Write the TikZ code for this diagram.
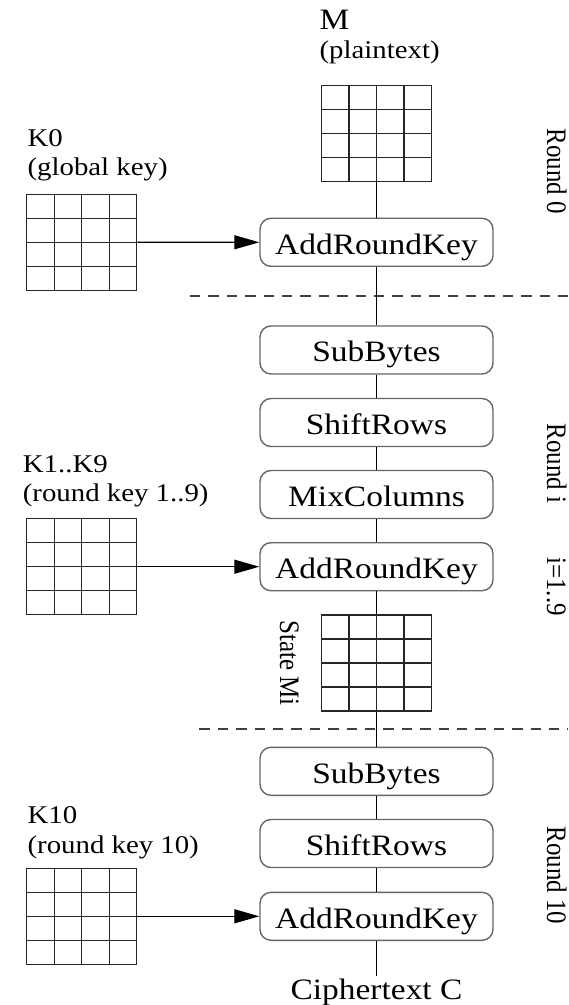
\documentclass[tikz,border=0pt]{standalone}
\usepackage{fontspec}
\setmainfont{Liberation Serif}[FakeStretch=1.13]
\newfontfamily\rotfont{Liberation Serif}[FakeStretch=0.885]
\usetikzlibrary{arrows.meta,calc}
\begin{document}
\begin{tikzpicture}[x=0.5pt,y=-0.5pt,
  opbox/.style={draw=black!60, line width=0.7pt, rounded corners=5.5pt,
    minimum width=116.5pt, minimum height=24pt, inner sep=0pt,
    text height=11.8pt, text depth=0pt, font=\fontsize{14.8pt}{17pt}\selectfont},
  gridbox/.style={draw=black!85, line width=0.65pt, minimum width=55pt, minimum height=48pt, inner sep=0pt,
    path picture={
      \foreach \f in {0.25,0.5,0.75}{
        \draw[black!85, line width=0.65pt]
          ($(path picture bounding box.south west)!\f!(path picture bounding box.south east)$) --
          ($(path picture bounding box.north west)!\f!(path picture bounding box.north east)$);
        \draw[black!85, line width=0.65pt]
          ($(path picture bounding box.south west)!\f!(path picture bounding box.north west)$) --
          ($(path picture bounding box.south east)!\f!(path picture bounding box.north east)$);
      }}},
  bigtxt/.style={inner sep=0pt, font=\fontsize{14.8pt}{17pt}\selectfont},
  lbl/.style={inner sep=0pt, anchor=base west, font=\fontsize{12.75pt}{15pt}\selectfont},
  rotlbl/.style={inner sep=0pt, anchor=base west, rotate=-90, font=\rotfont\fontsize{14.1pt}{16pt}\selectfont},
  flow/.style={draw=black, line width=0.6pt},
  keyarrow/.style={draw=black, line width=0.6pt, -{Triangle[length=12.5pt,width=7pt]}},
  sep/.style={draw=black!75, line width=0.65pt, dash pattern=on 5.2pt off 4pt}
]
\useasboundingbox (0,0) rectangle (568,1005);

% plaintext
\node[bigtxt, anchor=base west] (mt) at (319.2,30) {M};
\node[lbl] (ms) at (319.2,59) {(plaintext)};
\node[gridbox] (mg) at (376.5,133.3) {};

% round 0
\node[lbl] (k0t) at (27.2,146.7) {K0};
\node[lbl] (k0s) at (27.2,176) {(global key)};
\node[gridbox] (k0) at (81.7,242.2) {};
\node[opbox] (ark0) at (376.5,242.3) {AddRoundKey};
\node[rotlbl] (r0) at (547,128.3) {Round 0};

\coordinate (d1a) at (190,296);
\coordinate (d1b) at (568,296);

% round i
\node[opbox] (sb1) at (376.5,350) {SubBytes};
\node[opbox] (sr1) at (376.5,422.5) {ShiftRows};
\node[opbox] (mc1) at (376.5,494.5) {MixColumns};
\node[opbox] (ark1) at (376.5,566.7) {AddRoundKey};
\node[lbl] (k1t) at (22.5,472.3) {K1..K9};
\node[lbl] (k1s) at (22.5,501.7) {(round key 1..9)};
\node[gridbox] (k1) at (81.7,566.7) {};
\node[gridbox] (st) at (376.5,663) {};
\node[rotlbl] (stl) at (280,620) {State Mi};
\node[rotlbl] (ri) at (547,423) {Round i};
\node[rotlbl] (rir) at (547,557) {i=1..9};

\coordinate (d2a) at (199.3,729);
\coordinate (d2b) at (568,729);

% round 10
\node[opbox] (sb10) at (376.5,771.3) {SubBytes};
\node[opbox] (sr10) at (376.5,843.5) {ShiftRows};
\node[opbox] (ark10) at (376.5,916.3) {AddRoundKey};
\node[lbl] (k10t) at (27.2,823.3) {K10};
\node[lbl] (k10s) at (27.2,853) {(round key 10)};
\node[gridbox] (k10) at (81.7,916.3) {};
\node[rotlbl] (r10) at (547,826) {Round 10};

\node[bigtxt, anchor=base, inner sep=1pt] (ct) at (376.5,999) {Ciphertext C};

% separators
\draw[sep] (d1a) -- (d1b);
\draw[sep] (d2a) -- (d2b);

% main flow
\draw[flow] (mg.south) -- (ark0.north);
\draw[flow] (ark0.south) -- (sb1.north);
\draw[flow] (sb1.south) -- (sr1.north);
\draw[flow] (sr1.south) -- (mc1.north);
\draw[flow] (mc1.south) -- (ark1.north);
\draw[flow] (ark1.south) -- (st.north);
\draw[flow] (st.south) -- (sb10.north);
\draw[flow] (sb10.south) -- (sr10.north);
\draw[flow] (sr10.south) -- (ark10.north);
\draw[flow] (ark10.south) -- (ct.north);

% key arrows
\draw[keyarrow] (k0.east) -- (ark0.west);
\draw[keyarrow] (k1.east) -- (ark1.west);
\draw[keyarrow] (k10.east) -- (ark10.west);
\end{tikzpicture}
\end{document}
